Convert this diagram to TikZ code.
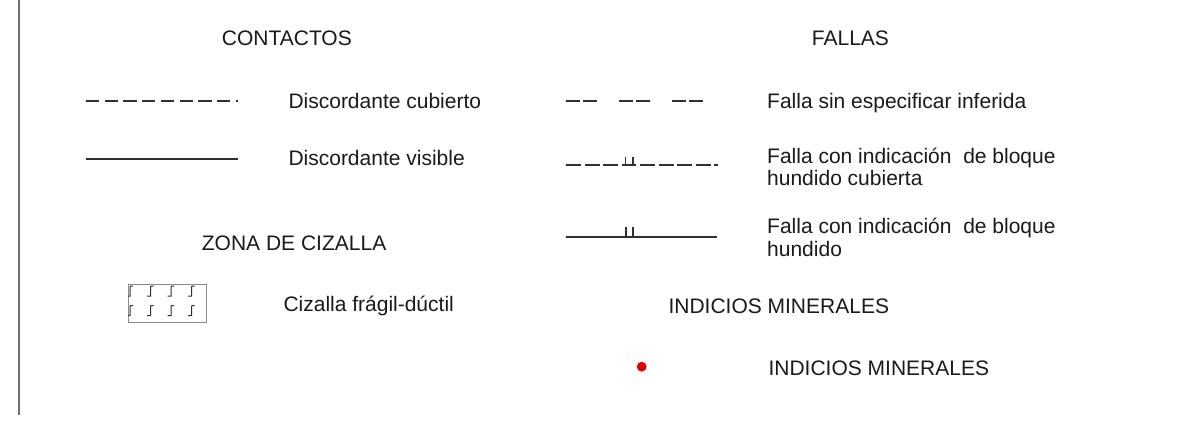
\documentclass[tikz,border=0pt]{standalone}
\usepackage{fontspec}
\setmainfont{Liberation Sans}
\begin{document}
\begin{tikzpicture}[x=1pt,y=-1pt,
  lbl/.style={anchor=base west,inner sep=0pt,text=txtc,font=\fontsize{21}{24}\selectfont},
  sym/.style={draw=linec,line width=1.3pt},
  tick/.style={draw=linec,line width=1.1pt}]
\definecolor{txtc}{HTML}{1A1A1A}
\definecolor{linec}{HTML}{303030}
\definecolor{framec}{HTML}{707070}
\definecolor{boxc}{HTML}{8A8A8A}
\definecolor{dotc}{HTML}{E00000}
\useasboundingbox (0,0) rectangle (1181,421);
\fill[white] (0,0) rectangle (1181,421);
% left frame line
\coordinate (ft) at (19,0);
\coordinate (fb) at (19,415);
\draw[framec,line width=2pt] (ft) -- (fb);

% headings
\node[lbl] (contactos) at (221.7,45.7) {CONTACTOS};
\node[lbl] (fallas) at (811.7,45.7) {FALLAS};
\node[lbl] (zona) at (201.7,250) {ZONA DE CIZALLA};
\node[lbl] (indh) at (668.3,313.3) {INDICIOS MINERALES};

% contactos
\coordinate (c1a) at (86,101);
\coordinate (c1b) at (238,101);
\draw[sym,dash pattern=on 13.3pt off 5.4pt] (c1a) -- (c1b);
\node[lbl] (c1t) at (288.3,108.3) {Discordante cubierto};
\coordinate (c2a) at (86,159);
\coordinate (c2b) at (238,159);
\draw[sym] (c2a) -- (c2b);
\node[lbl] (c2t) at (288.3,165) {Discordante visible};

% fallas 1
\coordinate (f1a) at (566,101);
\coordinate (f1b) at (704,101);
\draw[sym,dash pattern=on 14pt off 3pt on 14pt off 22pt] (f1a) -- (f1b);
\node[lbl] (f1t) at (767,108) {Falla sin especificar inferida};

% fallas 2
\coordinate (f2a) at (566,165);
\coordinate (f2b) at (620,165);
\coordinate (f2c) at (622,165);
\coordinate (f2d) at (636,165);
\coordinate (f2e) at (640,165);
\coordinate (f2f) at (718,165);
\draw[sym,dash pattern=on 15pt off 3.5pt] (f2a) -- (f2b);
\draw[sym] (f2c) -- (f2d);
\draw[tick] (625.5,165) -- (625.5,156.5) (633,165) -- (633,156.5);
\draw[sym,dash pattern=on 15pt off 3.5pt] (f2e) -- (f2f);
\node[lbl] (f2t) at (767,163) {Falla con indicación~~de bloque};
\node[lbl] (f2u) at (767,185) {hundido cubierta};

% fallas 3
\coordinate (f3a) at (566,237);
\coordinate (f3b) at (717,237);
\draw[sym] (f3a) -- (f3b);
\draw[tick] (626,237) -- (626,227) (633,237) -- (633,227);
\node[lbl] (f3t) at (767,233) {Falla con indicación~~de bloque};
\node[lbl] (f3u) at (767,256) {hundido};

% cizalla box
\draw[boxc,line width=1pt] (128.3,284) rectangle (206.7,322.7);
\begin{scope}
\clip (128.3,284) rectangle (206.7,322.7);
\foreach \cx in {130,150.5,171,191.5}{
  \foreach \cy in {286,305.5}{
    \draw[linec,line width=1pt] (\cx-3.5,\cy+10) -- (\cx,\cy+10) -- (\cx,\cy+0.8) -- (\cx+0.8,\cy) -- (\cx+3,\cy);
  }
}
\end{scope}
\node[lbl] (czt) at (283.3,311.7) {Cizalla frágil-dúctil};

% indicios
\fill[dotc] (641.7,366.7) circle (4.9);
\node[lbl] (indt) at (768.3,375) {INDICIOS MINERALES};
\end{tikzpicture}
\end{document}
